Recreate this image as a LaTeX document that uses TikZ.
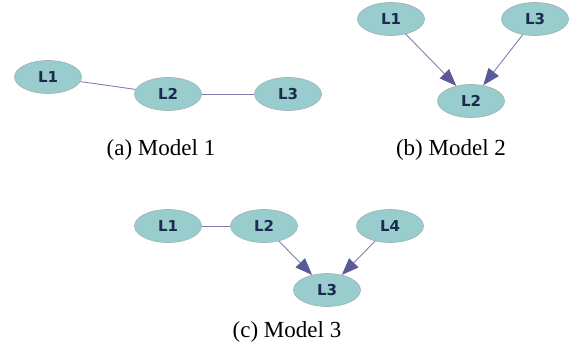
\documentclass[tikz,border=0pt]{standalone}
\usepackage{fontspec}
\setmainfont{Liberation Serif}
\newfontfamily\labfont{DejaVu Sans}
\usetikzlibrary{shapes.geometric,arrows.meta}
\definecolor{nodefill}{HTML}{99CCCC}
\definecolor{nodeline}{HTML}{A0B0B0}
\definecolor{labtext}{HTML}{1A2A50}
\definecolor{edgecol}{HTML}{8080B0}
\definecolor{tipcol}{HTML}{5A5A9A}
\tikzset{
  var/.style={ellipse, draw=nodeline, line width=0.6pt, fill=nodefill, minimum width=67pt, minimum height=33pt, inner sep=0pt, font=\labfont\bfseries\fontsize{15}{17}\selectfont, text=labtext},
  undir/.style={draw=edgecol, line width=0.9pt},
  dir/.style={draw=edgecol, line width=0.9pt, -{Triangle[length=17pt,width=13pt,color=tipcol]}, shorten >=0pt},
  capt/.style={anchor=base, font=\fontsize{23}{27}\selectfont, text=black}
}
\begin{document}
\begin{tikzpicture}[x=1pt,y=-1pt]
\useasboundingbox (0,0) rectangle (573,349);
% Model 1
\node[var] (a1) at (48,77) {L1};
\node[var] (a2) at (168,94) {L2};
\node[var] (a3) at (288,94) {L3};
\draw[undir] (a1) -- (a2);
\draw[undir] (a2) -- (a3);
\node[capt] (ca) at (161,155) {(a) Model 1};
% Model 2
\node[var] (b1) at (391,19) {L1};
\node[var] (b3) at (535,19) {L3};
\node[var] (b2) at (471,101) {L2};
\draw[dir] (b1) -- (b2);
\draw[dir] (b3) -- (b2);
\node[capt] (cb) at (451,155) {(b) Model 2};
% Model 3
\node[var] (c1) at (168,226) {L1};
\node[var] (c2) at (264,226) {L2};
\node[var] (c4) at (390,226) {L4};
\node[var] (c3) at (327,290) {L3};
\draw[undir] (c1) -- (c2);
\draw[dir] (c2) -- (c3);
\draw[dir] (c4) -- (c3);
\node[capt] (cc) at (287,337) {(c) Model 3};
\end{tikzpicture}
\end{document}
